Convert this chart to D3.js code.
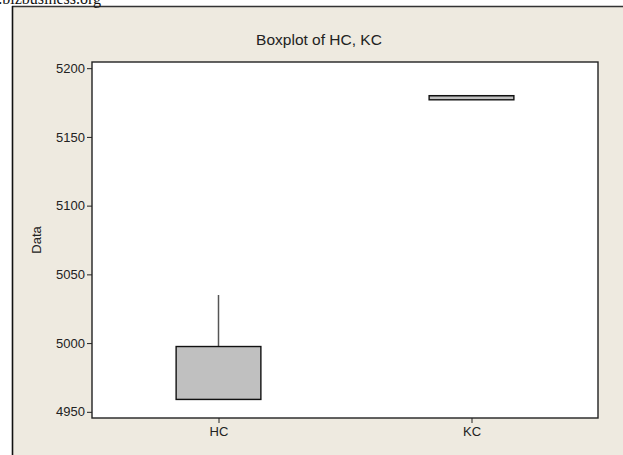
<!DOCTYPE html>
<html>
<head>
<meta charset="utf-8">
<script src="https://cdn.jsdelivr.net/npm/d3@7"></script>
<style>
  html, body { margin: 0; padding: 0; background: #fff; }
  svg { display: block; }
</style>
</head>
<body>
<script>
// Five-number summaries for each column
const categories = ["HC", "KC"];
const minValues    = [4959, 5177];
const q1Values     = [4959, 5177];
const medianValues = [4959, 5180];
const q3Values     = [4997.5, 5180];
const maxValues    = [5035, 5180];
const yTicks = [4950, 5000, 5050, 5100, 5150, 5200];
const yDomain = [4945.5, 5204.5];

const W = 623, H = 455;
const plot = { left: 92, right: 598, top: 62, bottom: 418 };

const svg = d3.select("body").append("svg")
  .attr("width", W).attr("height", H);

// page background and framed panel
svg.append("rect").attr("width", W).attr("height", H).attr("fill", "#fff");
svg.append("rect").attr("x", 12).attr("y", 6).attr("width", W - 12).attr("height", H - 6)
  .attr("fill", "#EEEAE0");
svg.append("line").attr("x1", 12).attr("x2", W).attr("y1", 6.5).attr("y2", 6.5)
  .attr("stroke", "#333").attr("stroke-width", 1.3);
svg.append("line").attr("x1", 12.5).attr("x2", 12.5).attr("y1", 6).attr("y2", H)
  .attr("stroke", "#111").attr("stroke-width", 1.6);

// site caption along the top edge
svg.append("text").attr("x", 101).attr("y", 4)
  .attr("text-anchor", "end")
  .attr("font-family", "Liberation Serif, Times New Roman, serif")
  .attr("font-size", 16).attr("fill", "#111")
  .text("www.bizbusiness.org");

// plotting area
svg.append("rect")
  .attr("x", plot.left).attr("y", plot.top)
  .attr("width", plot.right - plot.left).attr("height", plot.bottom - plot.top)
  .attr("fill", "#fff");

const x = d3.scalePoint().domain(categories)
  .range([plot.left, plot.right]).padding(0.5);
const y = d3.scaleLinear().domain(yDomain).range([plot.bottom, plot.top]);

const font = "Liberation Sans, Arial, sans-serif";

// y axis
const yAxis = svg.append("g").attr("transform", `translate(${plot.left},0)`)
  .call(d3.axisLeft(y).tickValues(yTicks).tickSize(5).tickPadding(2).tickFormat(d3.format("d")));
yAxis.select(".domain").remove();
yAxis.selectAll("line").attr("stroke", "#222");
yAxis.selectAll("text").attr("font-family", font).attr("font-size", 13).attr("fill", "#222");

// x axis
const xAxis = svg.append("g").attr("transform", `translate(0,${plot.bottom})`)
  .call(d3.axisBottom(x).tickSize(5).tickPadding(4));
xAxis.select(".domain").remove();
xAxis.selectAll("line").attr("stroke", "#222");
xAxis.selectAll("text").attr("font-family", font).attr("font-size", 13).attr("fill", "#222");

// boxes and whiskers
const boxW = x.step() * 0.335;
const rows = categories.map((c, i) => ({
  c, min: minValues[i], q1: q1Values[i], med: medianValues[i], q3: q3Values[i], max: maxValues[i]
}));

const g = svg.append("g");
rows.forEach(d => {
  const cx = x(d.c);
  if (d.max > d.q3) {
    g.append("line").attr("x1", cx).attr("x2", cx)
      .attr("y1", y(d.q3)).attr("y2", y(d.max))
      .attr("stroke", "#555").attr("stroke-width", 1.5);
  }
  if (d.min < d.q1) {
    g.append("line").attr("x1", cx).attr("x2", cx)
      .attr("y1", y(d.q1)).attr("y2", y(d.min))
      .attr("stroke", "#555").attr("stroke-width", 1.5);
  }
  g.append("rect")
    .attr("x", cx - boxW / 2).attr("width", boxW)
    .attr("y", y(d.q3)).attr("height", Math.max(1, y(d.q1) - y(d.q3)))
    .attr("fill", "#C0C0C0").attr("stroke", "#111").attr("stroke-width", 1.4);
  g.append("line")
    .attr("x1", cx - boxW / 2).attr("x2", cx + boxW / 2)
    .attr("y1", y(d.med)).attr("y2", y(d.med))
    .attr("stroke", "#111").attr("stroke-width", 1);
});

// plot border
svg.append("rect")
  .attr("x", plot.left).attr("y", plot.top)
  .attr("width", plot.right - plot.left).attr("height", plot.bottom - plot.top)
  .attr("fill", "none").attr("stroke", "#222").attr("stroke-width", 1.4);

// title and axis label
svg.append("text").attr("x", 319).attr("y", 45)
  .attr("text-anchor", "middle").attr("font-family", font)
  .attr("font-size", 15.5).attr("fill", "#222")
  .text("Boxplot of HC, KC");

svg.append("text")
  .attr("transform", `translate(41,${(plot.top + plot.bottom) / 2}) rotate(-90)`)
  .attr("text-anchor", "middle").attr("font-family", font)
  .attr("font-size", 13).attr("fill", "#222")
  .text("Data");
</script>
</body>
</html>
